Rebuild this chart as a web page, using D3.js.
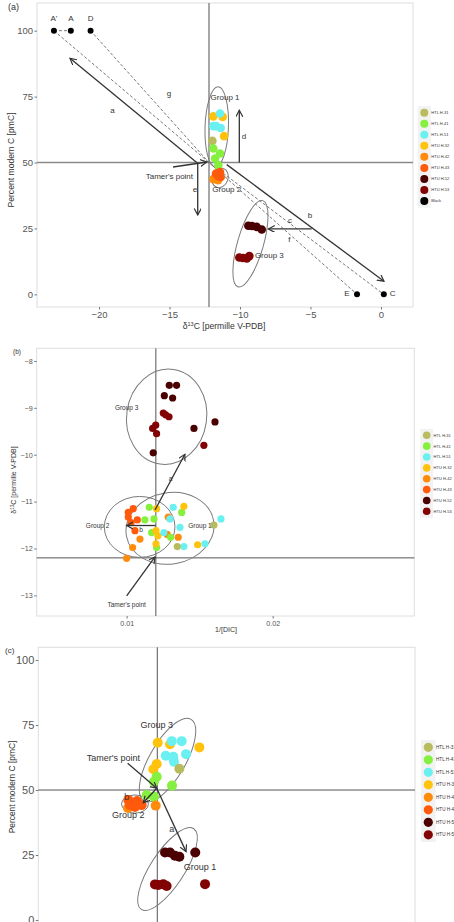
<!DOCTYPE html>
<html>
<head>
<meta charset="utf-8">
<script src="https://cdn.jsdelivr.net/npm/d3@7"></script>
<style>
  body { margin: 0; background: #fff; }
  svg { font-family: Arial, "Liberation Sans", sans-serif; display: block; }
  .border { fill: none; stroke: #dedede; stroke-width: 1; }
  .tick text { fill: #555; }
  .tick line { stroke: #777; }
  .title { fill: #333; }
  .note { fill: #333; }
  .ell { fill: none; stroke: #7a7a7a; stroke-width: 1; }
  .arrow { stroke: #333; stroke-width: 1.3; fill: none; }
  .dash { stroke: #555; stroke-width: 0.8; stroke-dasharray: 3 2; fill: none; }
  .legend-text { fill: #333; }
</style>
</head>
<body>
<div id="chart"></div>
<script>
// sample groups and their colours (shared by all three panels)
const groups = ['HTL H-31', 'HTL H-41', 'HTL H-51', 'HTU H-32', 'HTU H-42', 'HTU H-43', 'HTU H-52', 'HTU H-53'];
const groupColors = ['#b9bc5e', '#86f03e', '#6af0f0', '#ffc30d', '#ff8b0c', '#ff5a0c', '#4a0000', '#820303'];

// (a) d13C vs pmC  [group, d13C, pmC]
const aSamples = [
  ['HTU H-32', -11.89, 67.5], ['HTU H-32', -11.23, 67.3], ['HTU H-32', -11.13, 60.0],
  ['HTL H-51', -11.42, 68.6], ['HTL H-51', -11.89, 63.8], ['HTL H-51', -11.37, 63.1], ['HTL H-51', -11.70, 63.8],
  ['HTL H-31', -11.96, 58.2],
  ['HTL H-41', -11.89, 55.3], ['HTL H-41', -11.42, 53.4], ['HTL H-41', -11.77, 51.5], ['HTL H-41', -11.54, 49.0],
  ['HTU H-42', -11.89, 43.7], ['HTU H-42', -11.56, 43.3],
  ['HTU H-43', -11.70, 45.8], ['HTU H-43', -11.42, 46.4], ['HTU H-43', -11.37, 44.5], ['HTU H-43', -11.54, 44.8],
  ['HTU H-52', -9.41, 26.0], ['HTU H-52', -8.82, 25.6], ['HTU H-52', -8.46, 24.6], ['HTU H-52', -9.15, 25.9],
  ['HTU H-53', -10.05, 14.0], ['HTU H-53', -9.52, 13.6], ['HTU H-53', -9.34, 14.5], ['HTU H-53', -9.79, 13.8]
];
// end members  [label, d13C, pmC]
const endMembers = [["A'", -23.2, 100], ['A', -22.0, 100], ['D', -20.6, 100], ['E', -1.7, 0], ['C', 0.2, 0]];
const aTamer = [-12.2, 50];

// (b) 1/DIC vs d13C
const bSamples = [
  ['HTU H-52', 0.01292, -8.52], ['HTU H-52', 0.01342, -8.52], ['HTU H-52', 0.01258, -8.74], ['HTU H-52', 0.01315, -8.79],
  ['HTU H-52', 0.01461, -9.44], ['HTU H-52', 0.01605, -9.30], ['HTU H-52', 0.01182, -9.96],
  ['HTU H-53', 0.01251, -9.11], ['HTU H-53', 0.01290, -9.19], ['HTU H-53', 0.01267, -9.15], ['HTU H-53', 0.01199, -9.37],
  ['HTU H-53', 0.01178, -9.44], ['HTU H-53', 0.01205, -9.55], ['HTU H-53', 0.01529, -9.80],
  ['HTU H-43', 0.01045, -11.15], ['HTU H-43', 0.01011, -11.33], ['HTU H-43', 0.01073, -11.39], ['HTU H-43', 0.01011, -11.23],
  ['HTU H-43', 0.01057, -11.62], ['HTU H-43', 0.01030, -11.45],
  ['HTU H-42', 0.01091, -11.80], ['HTU H-42', 0.01041, -11.98], ['HTU H-42', 0.01000, -12.21], ['HTU H-42', 0.01353, -11.76],
  ['HTU H-42', 0.01278, -11.70], ['HTU H-42', 0.01285, -11.33],
  ['HTL H-41', 0.01155, -11.12], ['HTL H-41', 0.01125, -11.39], ['HTL H-41', 0.01187, -11.37], ['HTL H-41', 0.01171, -11.66],
  ['HTL H-41', 0.01205, -11.98], ['HTL H-41', 0.01377, -11.23], ['HTL H-41', 0.01301, -11.76],
  ['HTU H-32', 0.01205, -11.15], ['HTU H-32', 0.01392, -11.10], ['HTU H-32', 0.01201, -11.62], ['HTU H-32', 0.01214, -11.73],
  ['HTU H-32', 0.01486, -11.92], ['HTU H-32', 0.01201, -11.90],
  ['HTL H-51', 0.01319, -11.12], ['HTL H-51', 0.01297, -11.37], ['HTL H-51', 0.01365, -11.55], ['HTL H-51', 0.01255, -11.66],
  ['HTL H-51', 0.01392, -11.96], ['HTL H-51', 0.01536, -11.90], ['HTL H-51', 0.01646, -11.37],
  ['HTL H-31', 0.01598, -11.50], ['HTL H-31', 0.01347, -11.96]
];
const bTamer = [0.012, -12.2];

// (c) 1/DIC vs pmC
const cSamples = [
  ['HTU H-32', 0.01203, 68.2], ['HTU H-32', 0.01287, 67.6], ['HTU H-32', 0.01196, 60.0], ['HTU H-32', 0.01173, 58.0], ['HTU H-32', 0.01488, 66.4],
  ['HTL H-51', 0.01299, 68.8], ['HTL H-51', 0.01367, 68.8], ['HTL H-51', 0.01258, 63.2], ['HTL H-51', 0.01310, 62.8],
  ['HTL H-51', 0.01314, 60.9], ['HTL H-51', 0.01397, 63.8],
  ['HTL H-31', 0.01351, 58.2],
  ['HTL H-41', 0.01196, 55.1], ['HTL H-41', 0.01177, 53.2], ['HTL H-41', 0.01301, 51.7], ['HTL H-41', 0.01127, 48.1], ['HTL H-41', 0.01177, 47.4],
  ['HTU H-42', 0.01189, 44.0], ['HTU H-42', 0.00999, 43.1],
  ['HTU H-43', 0.01001, 46.2], ['HTU H-43', 0.01027, 44.2], ['HTU H-43', 0.01061, 45.8], ['HTU H-43', 0.01093, 44.2],
  ['HTU H-43', 0.01047, 43.5], ['HTU H-43', 0.01013, 44.2],
  ['HTU H-52', 0.01253, 26.0], ['HTU H-52', 0.01287, 26.0], ['HTU H-52', 0.01321, 24.7], ['HTU H-52', 0.01351, 24.3], ['HTU H-52', 0.01460, 26.0],
  ['HTU H-53', 0.01184, 13.7], ['HTU H-53', 0.01207, 13.5], ['HTU H-53', 0.01241, 13.8], ['HTU H-53', 0.01264, 13.1], ['HTU H-53', 0.01527, 13.8]
];
const cTamer = [0.012, 50];

// group ellipses  {x, y, rx, ry (data units), rot (deg)}
const aEllipses = [
  { x: -11.65, y: 63.5, rx: 0.83, ry: 15.2, rot: 2 },
  { x: -11.42, y: 44.2, rx: 0.57, ry: 3.8, rot: 20 },
  { x: -9.26, y: 19.2, rx: 0.92, ry: 17.0, rot: 16 }
];
const bEllipses = [
  { x: 0.01274, y: -9.19, rx: 0.00274, ry: 1.02, rot: 8 },
  { x: 0.01089, y: -11.54, rx: 0.00242, ry: 0.65, rot: 0 },
  { x: 0.01297, y: -11.57, rx: 0.00303, ry: 0.76, rot: -10 }
];
const cEllipses = [
  { x: 0.0127, y: 61.5, rx: 0.00123, ry: 18.1, rot: 30 },
  { x: 0.01047, y: 44.6, rx: 0.00092, ry: 3.5, rot: 0 },
  { x: 0.0127, y: 19.6, rx: 0.00116, ry: 18.5, rot: 33 }
];

// arrows [x1, y1, x2, y2]
const aArrows = [[-13.07, 50, -22.06, 89.5], [-14.75, 48.3, -12.36, 50.2], [-10.94, 49.2, 0.21, 5.0],
  [-4.92, 24.8, -7.99, 24.8], [-10.05, 50, -10.05, 69.8], [-13.0, 50, -13.0, 30.1]];
const bArrows = [[0.0100, -13.01, 0.01194, -12.18], [0.01194, -11.18, 0.01399, -9.99], [0.01199, -11.51, 0.0100, -11.51]];
const cArrows = [[0.00997, 60.3, 0.01196, 50.7], [0.01196, 50.7, 0.01104, 45.1], [0.01196, 50.7, 0.01397, 26.3]];

// notes [text, x, y]
const aNotes = [['a', -19.04, 69.5], ['g', -15.04, 76.1], ['d', -9.72, 59.7], ['e', -13.19, 39.5], ['b', -5.04, 29.7],
  ['c', -6.45, 27.8], ['f', -6.5, 20.8], ["Tamer's point", -15.01, 44.5], ['Group 1', -11.06, 74.6],
  ['Group 2', -10.94, 39.5], ['Group 3', -7.92, 14.6]];
const bNotes = [['Group 3', 0.0100, -9.0], ['Group 2', 0.00801, -11.52], ['Group 1', 0.01502, -11.52],
  ['a', 0.01301, -10.53], ['b', 0.01098, -11.62], ["Tamer's point", 0.0100, -13.22]];
const cNotes = [['Group 3', 0.01196, 74.7], ['Group 2', 0.01001, 40.0], ['Group 1', 0.01492, 20.1],
  ['a', 0.01299, 34.6], ['b', 0.0099, 47.2], ["Tamer's point", 0.00899, 61.9]];

const pmcTicks = [0, 25, 50, 75, 100];
const d13cTicks = [-20, -15, -10, -5, 0];
const bYTicks = [-13, -12, -11, -10, -9, -8];
const dicTicks = [0.01, 0.02];

const W = 454, H = 922;
const svg = d3.select('#chart').append('svg').attr('width', W).attr('height', H);
svg.append('rect').attr('width', W).attr('height', H).attr('fill', '#fff');

// open arrow head
const defs = svg.append('defs');
defs.append('marker').attr('id', 'head').attr('markerUnits', 'userSpaceOnUse')
  .attr('markerWidth', 8).attr('markerHeight', 8).attr('refX', 6.5).attr('refY', 3.5).attr('orient', 'auto')
  .append('path').attr('d', 'M0,0L6.5,3.5L0,7').attr('fill', 'none').attr('stroke', '#333').attr('stroke-width', 1.2);

const color = d3.scaleOrdinal().domain(groups.concat(['Black'])).range(groupColors.concat(['#000']));

class Panel {
  constructor(box, xDomain, yDomain, fs) {
    this.box = box;
    this.fs = fs;
    this.x = d3.scaleLinear().domain(xDomain).range([box.left, box.right]);
    this.y = d3.scaleLinear().domain(yDomain).range([box.bottom, box.top]);
    this.g = svg.append('g');
    this.g.append('rect').classed('border', true)
      .attr('x', box.left).attr('y', box.top).attr('width', box.right - box.left).attr('height', box.bottom - box.top);
  }

  axes(xTicks, yTicks, xFmt, yFmt) {
    const ax = this.g.append('g').attr('transform', `translate(0,${this.box.bottom})`)
      .call(d3.axisBottom(this.x).tickValues(xTicks).tickSize(2.5).tickPadding(2).tickFormat(xFmt));
    const ay = this.g.append('g').attr('transform', `translate(${this.box.left},0)`)
      .call(d3.axisLeft(this.y).tickValues(yTicks).tickSize(2.5).tickPadding(1.5).tickFormat(yFmt));
    [ax, ay].forEach(a => {
      a.select('.domain').remove();
      a.selectAll('text').attr('font-size', this.fs.tick).attr('font-family', null);
    });
    return this;
  }

  refLines(t, col, w) {
    this.g.append('line').attr('x1', this.x(t[0])).attr('x2', this.x(t[0]))
      .attr('y1', this.box.top).attr('y2', this.box.bottom).attr('stroke', col).attr('stroke-width', w);
    this.g.append('line').attr('x1', this.box.left).attr('x2', this.box.right)
      .attr('y1', this.y(t[1])).attr('y2', this.y(t[1])).attr('stroke', col).attr('stroke-width', w);
    return this;
  }

  ellipses(list) {
    list.forEach(e => {
      const cx = this.x(e.x), cy = this.y(e.y);
      const rx = Math.abs(this.x(e.x + e.rx) - cx), ry = Math.abs(this.y(e.y + e.ry) - cy);
      this.g.append('ellipse').classed('ell', true).attr('cx', cx).attr('cy', cy).attr('rx', rx).attr('ry', ry)
        .attr('transform', `rotate(${e.rot},${cx},${cy})`);
    });
    return this;
  }

  points(data, r) {
    this.g.append('g').selectAll('circle').data(data).join('circle')
      .attr('cx', d => this.x(d[1])).attr('cy', d => this.y(d[2])).attr('r', r)
      .attr('fill', d => color(d[0]));
    return this;
  }

  arrows(list) {
    this.g.append('g').selectAll('line').data(list).join('line').classed('arrow', true)
      .attr('x1', d => this.x(d[0])).attr('y1', d => this.y(d[1]))
      .attr('x2', d => this.x(d[2])).attr('y2', d => this.y(d[3]))
      .attr('marker-end', 'url(#head)');
    return this;
  }

  notes(list) {
    this.g.append('g').selectAll('text').data(list).join('text').classed('note', true)
      .attr('x', d => this.x(d[1])).attr('y', d => this.y(d[2]))
      .attr('text-anchor', 'middle').attr('dominant-baseline', 'middle')
      .attr('font-size', this.fs.note).text(d => d[0]);
    return this;
  }

  titles(tag, tagPos, xTitle, xPos, yTitle, yPos) {
    svg.append('text').classed('title', true).attr('x', tagPos[0]).attr('y', tagPos[1])
      .attr('font-size', this.fs.tag).text(tag);
    if (xTitle) {
      const t = svg.append('text').classed('title', true).attr('x', xPos[0]).attr('y', xPos[1])
        .attr('text-anchor', 'middle').attr('font-size', this.fs.title);
      xTitle(t);
    }
    const t = svg.append('text').classed('title', true)
      .attr('transform', `translate(${yPos[0]},${yPos[1]})rotate(-90)`)
      .attr('text-anchor', 'middle').attr('font-size', this.fs.title);
    yTitle(t);
    return this;
  }

  legend(labels, pos, step, r, fsz) {
    const lg = svg.append('g').attr('transform', `translate(${pos[0]},${pos[1]})`);
    lg.append('rect').attr('x', -step / 2 - 1).attr('y', -step / 2 - 1)
      .attr('width', step + 2).attr('height', step * labels.length + 2).attr('fill', '#f2f2f2');
    const it = lg.selectAll('g').data(labels).join('g').attr('transform', (d, i) => `translate(0,${i * step})`);
    it.append('circle').attr('r', r).attr('fill', d => color(d));
    it.append('text').classed('legend-text', true).attr('x', step / 2 + 1.5).attr('dy', '0.35em')
      .attr('font-size', fsz).text(d => d);
    return this;
  }
}

const d13cTitle = t => {
  t.append('tspan').text('δ');
  t.append('tspan').attr('font-size', '0.65em').attr('dy', '-0.45em').text('13');
  t.append('tspan').attr('dy', '0.3em').text('C [permille V-PDB]');
};
const pmcTitle = t => t.text('Percent modern C [pmC]');

// ---------- panel (a)
const pa = new Panel({ left: 37, right: 413, top: 3, bottom: 307 }, [-24.4, 2.27], [-4.8, 110.5],
  { tick: 9.5, note: 8, tag: 9, title: 8.6 });
pa.axes(d13cTicks, pmcTicks, d3.format('d'), d3.format('d'))
  .refLines(aTamer, '#8a8a8a', 1.5);
// mixing lines through Tamer's point
const dashPts = [[endMembers[0], aTamer, endMembers[3]], [endMembers[2], aTamer, endMembers[4]], [endMembers[0], endMembers[1]]];
dashPts.forEach(seg => {
  pa.g.append('path').classed('dash', true)
    .attr('d', d3.line().x(p => pa.x(p.length === 3 ? p[1] : p[0])).y(p => pa.y(p.length === 3 ? p[2] : p[1]))(seg));
});
pa.ellipses(aEllipses).points(aSamples, 4.3).arrows(aArrows).notes(aNotes);
pa.g.append('g').selectAll('circle').data(endMembers).join('circle')
  .attr('cx', d => pa.x(d[1])).attr('cy', d => pa.y(d[2])).attr('r', 3).attr('fill', '#000');
pa.g.append('g').selectAll('text').data(endMembers).join('text').classed('note', true)
  .attr('x', d => pa.x(d[1]) + (d[0] === 'E' ? -10 : d[0] === 'C' ? 6 : 0))
  .attr('y', d => pa.y(d[2]) + (d[2] === 100 ? -12 : 0))
  .attr('text-anchor', d => d[0] === 'C' ? 'start' : 'middle').attr('dominant-baseline', 'middle')
  .attr('font-size', 8).text(d => d[0]);
pa.titles('(a)', [8, 10], d13cTitle, [224, 329], pmcTitle, [14, 160])
  .legend(groups.concat(['Black']), [424.3, 112.7], 11.04, 4, 4);

// ---------- panel (b)
const pb = new Panel({ left: 36.7, right: 414.3, top: 348.3, bottom: 616 }, [0.00384, 0.0297], [-13.44, -7.73],
  { tick: 7.2, note: 6.5, tag: 6.5, title: 7 });
pb.axes(dicTicks, bYTicks, d3.format('.2f'), d3.format('d'))
  .refLines(bTamer, '#555', 1)
  .ellipses(bEllipses).points(bSamples, 3.6).arrows(bArrows).notes(bNotes)
  .titles('(b)', [13, 354], t => t.text('1/[DIC]'), [226, 632], d13cTitle, [16, 480])
  .legend(groups, [426.7, 435.3], 10.86, 3.8, 4);

// ---------- panel (c)  (its x axis falls below the picture)
const pc = new Panel({ left: 38.3, right: 415, top: 647.3, bottom: 933 }, [0.00385, 0.02965], [-5, 104.9],
  { tick: 11, note: 9, tag: 8, title: 8.4 });
pc.axes([], pmcTicks, d3.format('.2f'), d3.format('d'))
  .refLines(cTamer, '#555', 1)
  .ellipses(cEllipses).points(cSamples, 5).arrows(cArrows).notes(cNotes)
  .titles('(c)', [5, 653], null, null, pmcTitle, [15, 787])
  .legend(groups, [428.3, 747.3], 12.5, 4.6, 4.6);
</script>
</body>
</html>
